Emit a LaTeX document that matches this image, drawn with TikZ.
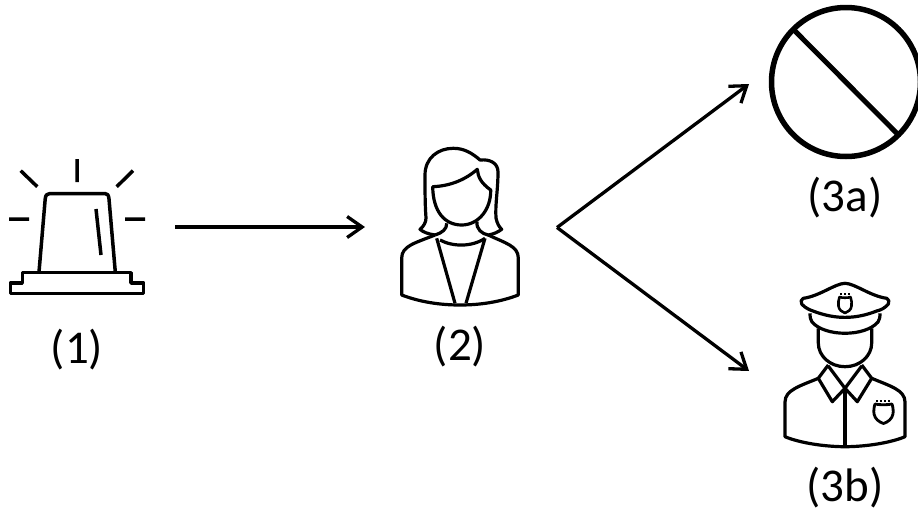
\documentclass[tikz,border=0pt]{standalone}
\usepackage{fontspec}
\setmainfont{Carlito}
\usetikzlibrary{arrows.meta}
\tikzset{
 x=1pt,y=-1pt,
 icon/.style={line width=3.5pt,line join=round,line cap=butt,black},
 thin icon/.style={line width=3.2pt,line join=round,black},
 flow/.style={line width=3.3pt,black,-{Straight Barb[length=15pt,width=21pt,line width=3.3pt]}},
 lbl/.style={font=\fontsize{47}{50}\selectfont,text=black,inner sep=0pt},
 anchorbox/.style={inner sep=0pt,outer sep=0pt,draw=none},
}
\begin{document}
\begin{tikzpicture}
\useasboundingbox (0,0) rectangle (918,512);
% alarm
\draw[icon] (77,159)--(77,182) (20.7,170.7)--(37.3,186.7) (133,170.7)--(116.7,186.7) (9,219)--(29,219) (125,219)--(145,219) (96,209)--(101,255);
\draw[icon] (39,272)--(45.2,199) .. controls (45.6,195) and (47,193.5) .. (50,193.5) -- (105,193.5) .. controls (107.5,193.5) and (108.6,195) .. (109,199) -- (115.3,272);
\draw[icon] (22.3,272.7)--(131,272.7)--(131,283)--(143.7,283)--(143.7,293.7)--(10.3,293.7)--(10.3,283)--(22.3,283)--cycle;
% woman
\draw[thin icon] (435,235) .. controls (428,234) and (423,232) .. (420,229.3) .. controls (424,226) and (426,222) .. (426,218)
 .. controls (425,205) and (425,190) .. (425,175) .. controls (425,158) and (438,148.3) .. (453.3,148.3)
 .. controls (464,148.3) and (472,153) .. (480,160) .. controls (490,159) and (498,163) .. (498,172)
 .. controls (498,190) and (495,205) .. (496,218) .. controls (497,223) and (499,227) .. (501.7,229.3)
 .. controls (498,232) and (494,234) .. (488.3,235) .. controls (482,234) and (476,229) .. (477,221.7);
\draw[thin icon] (432.7,186.7) .. controls (450,186) and (465,180) .. (477.3,169.3) .. controls (478,177) and (481,183) .. (490.7,190)
 .. controls (491,210) and (478,225) .. (461.7,225) .. controls (445,225) and (433,212) .. (432.7,186.7) -- cycle;
\draw[thin icon] (446.7,223.3) .. controls (447,229) and (442,233) .. (435,235);
\draw[thin icon] (440,240) .. controls (453,247) and (472,247) .. (485,238.3);
\draw[thin icon] (435,235) .. controls (415,243) and (401.7,246) .. (401.7,258) -- (401.7,295) .. controls (420,302) and (440,305) .. (460,305) .. controls (480,305) and (500,302) .. (518.3,295) -- (518.3,258) .. controls (518.3,246) and (505,243) .. (488.3,235);
\draw[thin icon] (436.7,238.3)--(455,303.3) (485,238.3)--(466,303.3);
% no sign
\draw[line width=5.5pt,black] (846,82) circle (74.5);
\draw[line width=5pt,black] (793.5,29.5)--(897,133.5);
% police
\draw[thin icon] (845,283.3) .. controls (835,283.5) and (820,296) .. (803.3,298.3) .. controls (801,299) and (800.5,302) .. (801.7,304) .. controls (805,308) and (810,310) .. (813,311) .. controls (835,319.5) and (855,319.5) .. (876.7,311) .. controls (881,310) and (885,308) .. (888.3,304) .. controls (889.5,302) and (889,299) .. (886.7,298.3) .. controls (870,296) and (855,283.5) .. (845,283.3) -- cycle;
\draw[thin icon] (810,313.3) .. controls (810,317) and (810.5,320) .. (812,322) .. controls (825,337) and (865,337) .. (878,322) .. controls (879.5,320) and (880,317) .. (880,313.3);
\draw[thin icon] (818.3,328.3)--(818.3,343) .. controls (818.3,356) and (830,366.7) .. (845,366.7) .. controls (860,366.7) and (871.7,356) .. (871.7,343) -- (871.7,328.3);
\draw[line width=2.6pt,line join=round,black] (839.5,297) .. controls (842,298) and (848,298) .. (850.5,297) .. controls (851.5,300) and (852,303) .. (851.5,306) .. controls (851,310) and (848,312) .. (845,313) .. controls (842,312) and (839,310) .. (838.5,306) .. controls (838,303) and (838.5,300) .. (839.5,297) -- cycle;
\draw[line width=2pt,dash pattern=on 2pt off 2pt,black] (840,294) -- (851,294);
\draw[thin icon] (828.3,365)--(818.3,378.3)--(832.3,401.7)--(845,388.3)--(857.3,401.7)--(871.7,378.3)--(861.7,365);
\draw[thin icon] (828.3,366)--(845,388.3)--(861.7,366);
\draw[thin icon] (845,388.3)--(845,446);
\draw[thin icon] (818.3,378.3) .. controls (800,386) and (785,390) .. (785,402) -- (785,436.7) .. controls (800,443) and (825,446.7) .. (845,446.7) .. controls (865,446.7) and (890,443) .. (905,436.7) -- (905,402) .. controls (905,390) and (890,386) .. (871.7,378.3);
\draw[line width=2.8pt,line join=round,black] (875,404) .. controls (879,405) and (888,405) .. (892,404) .. controls (893,407) and (893.5,411) .. (893,414) .. controls (892,419) and (888,422) .. (883.5,423.5) .. controls (879,422) and (875,419) .. (874,414) .. controls (873.5,411) and (874,407) .. (875,404) -- cycle;
\draw[line width=2pt,dash pattern=on 2pt off 2pt,black] (876,401) -- (891,401);
% labels
\node[lbl] (l1) at (77,350) {(1)};
\node[lbl] (l2) at (460,347) {(2)};
\node[lbl] (l3a) at (845,198) {(3a)};
\node[lbl] (l3b) at (845,488) {(3b)};
% connectors
\node[anchorbox,minimum width=196pt,minimum height=140pt] (alarm) at (77,227) {};
\node[anchorbox,minimum width=192pt,minimum height=160pt] (woman) at (461,227.5) {};
\coordinate (noEnd) at (749,84);
\coordinate (copEnd) at (749,371);
\draw[flow] (alarm.east)--(alarm.east -| woman.west);
\draw[flow] (woman.east)--(noEnd);
\draw[flow] (woman.east)--(copEnd);
\end{tikzpicture}
\end{document}
